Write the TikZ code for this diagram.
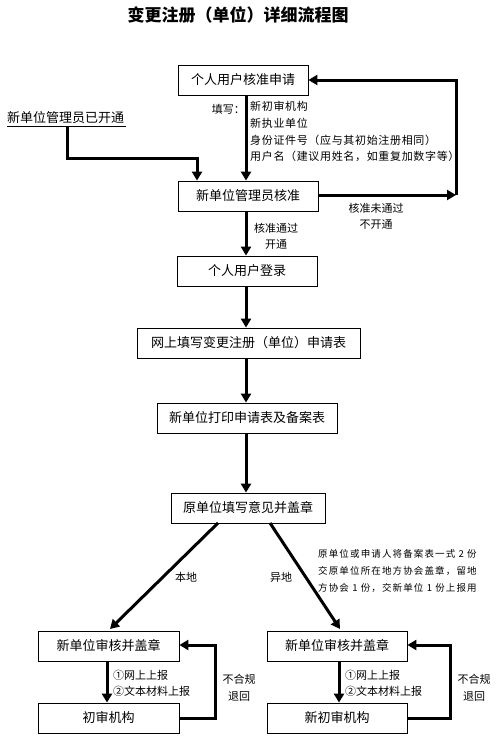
\documentclass[tikz,border=0pt]{standalone}
\usepackage{fontspec}
\setmainfont{Noto Sans CJK SC}
\newfontfamily\notefont[LetterSpace=12]{Noto Sans CJK SC}
\newfontfamily\fillfont[LetterSpace=6]{Noto Sans CJK SC}
\usetikzlibrary{arrows.meta}
\begin{document}
\begin{tikzpicture}[x=1pt,y=-1pt,
  box/.style={draw=black,line width=0.8pt,minimum height=30pt,inner sep=0pt,font=\fontsize{13}{13}\selectfont},
  flow/.style={line width=3pt,-{Triangle[length=9pt,width=10pt]}},
  lab/.style={font=\fontsize{11}{14}\selectfont,inner sep=0pt,align=left}]
\useasboundingbox (0,0) rectangle (500,739);
\node[font=\bfseries\fontsize{17}{17}\selectfont] (title) at (238,15) {变更注册（单位）详细流程图};
% boxes
\node[box,minimum width=130pt] (b1) at (243,80) {个人用户核准申请};
\node[box,minimum width=140pt] (b2) at (248,196) {新单位管理员核准};
\node[box,minimum width=140pt] (b3) at (247,271) {个人用户登录};
\node[box,minimum width=223pt] (b4) at (248.5,343) {网上填写变更注册（单位）申请表};
\node[box,minimum width=180pt] (b5) at (247,418) {新单位打印申请表及备案表};
\node[box,minimum width=154pt] (b6) at (248,508) {原单位填写意见并盖章};
\node[box,minimum width=141pt] (b7) at (108.5,646) {新单位审核并盖章};
\node[box,minimum width=141pt] (b8) at (108.5,718) {初审机构};
\node[box,minimum width=140pt] (b9) at (337,646) {新单位审核并盖章};
\node[box,minimum width=140pt] (b10) at (337,718) {新初审机构};
% start text
\node[font=\fontsize{13}{13}\selectfont,inner sep=0pt,anchor=west] (start) at (7,118) {新单位管理员已开通};
\draw[line width=0.6pt] (7,126) -- (126,126);
\coordinate (s1) at (67,127);
\coordinate (s2) at (67,158);
\coordinate (s3) at (197,158);
\draw[flow] (s1) -- (s2) -- (s3) -- (s3 |- b2.north);
% b1 -> b2
\draw[flow] (b1.south -| 246,0) -- (246,0 |- b2.north);
\node[lab,anchor=east] (fill) at (245,109) {填写：};
\node[lab,anchor=north west,font=\fillfont\fontsize{11}{16.8}\selectfont] (filltxt) at (250,101) {新初审机构\\新执业单位\\身份证件号（应与其初始注册相同）\\用户名（建议用姓名，如重复加数字等）};
% loop back to b1
\coordinate (r1) at (456,195);
\coordinate (r2) at (456,80);
\draw[flow] (b2.east |- r1) -- (r1);
\draw[flow] (r1) -- (r2) -- (b1.east |- r2);
\node[lab,align=center,font=\fontsize{11}{16}\selectfont] (rej) at (376,216) {核准未通过\\不开通};
% b2 -> b3
\draw[flow] (b2.south -| 246,0) -- (246,0 |- b3.north);
\node[lab,align=center,font=\fontsize{11}{16}\selectfont] (pass) at (276,236) {核准通过\\开通};
\draw[flow] (b3.south -| 246,0) -- (246,0 |- b4.north);
\draw[flow] (b4.south -| 246,0) -- (246,0 |- b5.north);
\draw[flow] (b5.south -| 246,0) -- (246,0 |- b6.north);
% diagonals
\draw[flow] (218,523) -- (110,629);
\draw[flow] (270,523) -- (340,629);
\node[lab] (local) at (186,577) {本地};
\node[lab] (remote) at (281,577) {异地};
\node[font=\notefont\fontsize{9.5}{17}\selectfont,inner sep=0pt,anchor=north west,align=left] (note) at (318,549) {原单位或申请人将备案表一式 2 份\\交原单位所在地方协会盖章，留地\\方协会 1 份，交新单位 1 份上报用};
% left lower
\draw[flow] (b7.south -| 107,0) -- (107,0 |- b8.north);
\node[lab,anchor=north west,font=\fontsize{11}{16}\selectfont] (l1) at (113,670) {①网上上报\\②文本材料上报};
\coordinate (lr1) at (215,718);
\coordinate (lr2) at (215,645);
\draw[flow] (b8.east |- lr1) -- (lr1) -- (lr2) -- (b7.east |- lr2);
\node[lab,align=center,font=\fontsize{11}{17}\selectfont] (l2) at (239,688) {不合规\\退回};
% right lower
\draw[flow] (b9.south -| 339,0) -- (339,0 |- b10.north);
\node[lab,anchor=north west,font=\fontsize{11}{16}\selectfont] (r1t) at (345,670) {①网上上报\\②文本材料上报};
\coordinate (rr1) at (450,718);
\coordinate (rr2) at (450,645);
\draw[flow] (b10.east |- rr1) -- (rr1) -- (rr2) -- (b9.east |- rr2);
\node[lab,align=center,font=\fontsize{11}{17}\selectfont] (r2t) at (474,688) {不合规\\退回};
\end{tikzpicture}
\end{document}
